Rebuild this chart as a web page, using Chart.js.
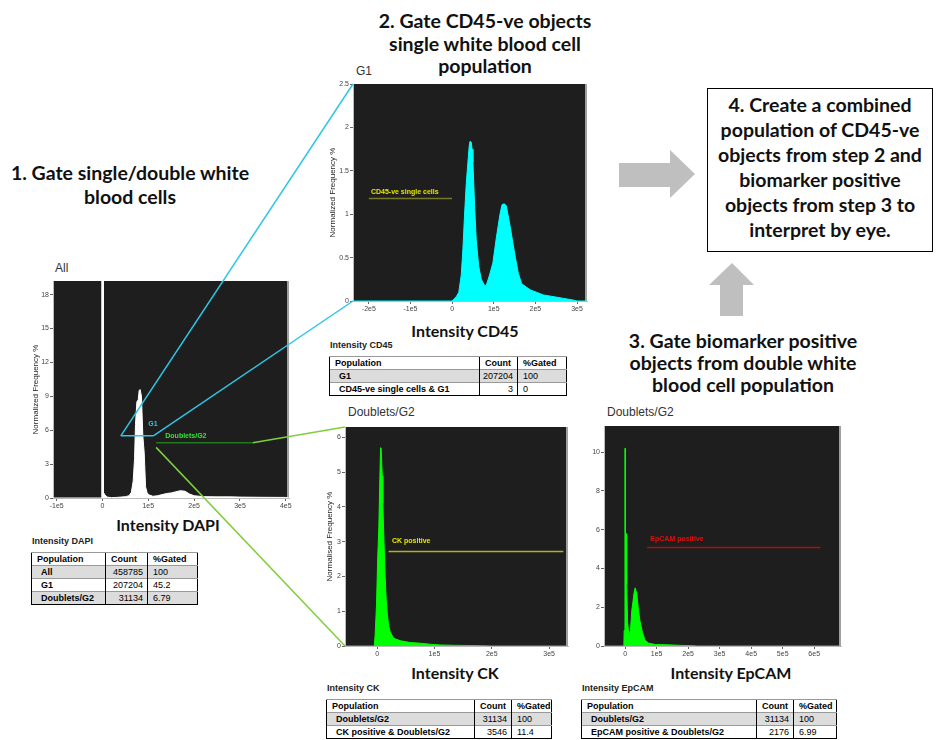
<!DOCTYPE html>
<html>
<head>
<meta charset="utf-8">
<script src="https://cdn.jsdelivr.net/npm/chart.js@4.4.1/dist/chart.umd.min.js"></script>
<style>
  body { margin: 0; width: 936px; height: 740px; position: relative; overflow: hidden; background: #fff; font-family: "Liberation Sans", Arial, sans-serif; }
  .abs { position: absolute; }
  .step { position: absolute; font-family: Lato, "Open Sans", sans-serif; font-weight: 700; font-size: 19.5px; text-align: center; color: #111; }
  .axt { position: absolute; font-family: Lato, "Open Sans", sans-serif; font-weight: 700; font-size: 16px; color: #111; white-space: nowrap; transform: translateX(-50%); }
  .ptitle { position: absolute; font-size: 12px; color: #333; line-height: 14px; }
  .tcap { position: absolute; font-size: 9px; font-weight: bold; color: #222; line-height: 10px; }
  table.pop { position: absolute; border-collapse: collapse; font-size: 9px; border: 1px solid #000; table-layout: fixed; }
  table.pop td { border-left: 1px solid #000; border-top: 1px solid #999; padding: 0 0 0 5px; height: 12px; line-height: 11px; white-space: nowrap; overflow: hidden; }
  table.pop tr.g td { background: #dcdcdc; }
  table.pop td.b { font-weight: bold; }
  table.pop td.r { text-align: right; padding: 0 4px 0 0; }
  #step4 { position: absolute; left: 707px; top: 88px; width: 226px; height: 164px; border: 1.5px solid #000; box-sizing: border-box; }
</style>
</head>
<body>

<div class="step" style="left:-10px; top:161px; width:280px; line-height:23.5px;">1. Gate single/double white<br>blood cells</div>
<div class="step" style="left:360px; top:10px; width:250px; line-height:22.5px;">2. Gate CD45-ve objects<br>single white blood cell<br>population</div>
<div class="step" style="left:602px; top:330px; width:282px; line-height:22px;">3. Gate biomarker positive<br>objects from double white<br>blood cell population</div>
<div id="step4"><div class="step" style="position:static; padding-top:3px; line-height:25px;">4. Create a combined<br>population of CD45-ve<br>objects from step 2 and<br>biomarker positive<br>objects from step 3 to<br>interpret by eye.</div></div>

<div class="ptitle" style="left:55px; top:261px;">All</div>
<div class="ptitle" style="left:356px; top:64px;">G1</div>
<div class="ptitle" style="left:348px; top:405px;">Doublets/G2</div>
<div class="ptitle" style="left:607px; top:405px;">Doublets/G2</div>

<div class="axt" style="left:168px; top:515px;">Intensity DAPI</div>
<div class="axt" style="left:465px; top:321px;">Intensity CD45</div>
<div class="axt" style="left:455px; top:663px;">Intensity CK</div>
<div class="axt" style="left:731px; top:663px;">Intensity EpCAM</div>

<canvas id="overlay" width="936" height="740" style="position:absolute;left:0;top:0;z-index:10;pointer-events:none"></canvas>

<script>
// ---- histogram data (x = intensity, y = normalized frequency %) ----
const dapiX = [-108000, -2000, -1500, 1500, 2000, 5000, 10000, 20000, 30000, 40000, 50000, 58000, 63000, 67000, 70000, 72000, 75000, 78000, 80000, 82000, 85000, 88000, 91000, 94000, 97000, 100000, 110000, 120000, 130000, 140000, 150000, 160000, 170000, 180000, 190000, 200000, 220000, 250000, 280000, 300000, 350000, 400000, 407000];
const dapiY = [0, 0, 19.6, 19.6, 0.5, 0.3, 0.08, 0.03, 0.05, 0.08, 0.12, 0.2, 0.5, 1.5, 3.5, 6.5, 8.5, 8.7, 9.5, 9.6, 9.0, 5.5, 4.0, 1.0, 0.5, 0.3, 0.15, 0.2, 0.3, 0.4, 0.45, 0.55, 0.65, 0.6, 0.35, 0.2, 0.12, 0.1, 0.1, 0.08, 0.06, 0.05, 0];

const cd45X = [-238000, 0, 10000, 16000, 22000, 26000, 30000, 34000, 38000, 41000, 43000, 46000, 48000, 50000, 54000, 58000, 64000, 70000, 78000, 82000, 90000, 98000, 106000, 115000, 120000, 125000, 130000, 139000, 147000, 152000, 159000, 167000, 187000, 219000, 268000, 292000, 300000, 324000];
const cd45Y = [0, 0, 0.05, 0.1, 0.3, 0.6, 1.0, 1.35, 1.6, 1.78, 1.84, 1.83, 1.75, 1.6, 1.1, 0.7, 0.4, 0.25, 0.18, 0.18, 0.3, 0.44, 0.72, 1.0, 1.11, 1.12, 1.1, 0.87, 0.64, 0.5, 0.32, 0.2, 0.13, 0.07, 0.03, 0.01, 0, 0];

const ckX = [-56000, -5000, -3500, -1000, 1000, 3000, 4500, 6000, 7000, 9000, 10000, 12000, 14000, 16000, 18000, 20000, 23000, 29000, 41000, 58000, 76000, 93000, 110000, 134000, 157000, 180000, 200000, 333000];
const ckY = [0, 0, 0.3, 1.2, 2.5, 3.4, 4.6, 5.7, 5.7, 4.9, 4.1, 3.0, 2.0, 1.3, 0.9, 0.6, 0.4, 0.22, 0.15, 0.1, 0.08, 0.05, 0.03, 0.02, 0.015, 0.01, 0, 0];

const epcamX = [-67000, -4000, -3000, -500, -500, 1000, 1000, 3000, 5000, 8000, 12000, 17000, 21000, 25000, 29000, 32000, 37000, 42000, 47000, 55000, 63000, 74000, 95000, 137000, 180000, 210000, 230000, 685000];
const epcamY = [0, 0, 0.8, 0.8, 10.2, 10.2, 5.8, 5.8, 3.2, 1.2, 0.6, 0.8, 1.8, 2.3, 2.8, 3.0, 2.7, 1.9, 1.3, 0.7, 0.3, 0.15, 0.08, 0.06, 0.03, 0.02, 0, 0];

// ---- gates (x from, x to, level) and their labels ----
const g1Gate = { x: [40000, 111000], y: 5.5 };
const dblGate = { x: [117000, 328000], y: 4.88 };
const cd45Gate = { x: [-200000, 0], y: 1.18 };
const ckGate = { x: [20000, 325000], y: 2.72 };
const epcamGate = { x: [70000, 620000], y: 5.08 };

// ---- population tables ----
const dapiPop = ['All', 'G1', 'Doublets/G2'];
const dapiCount = ['458785', '207204', '31134'];
const dapiGated = ['100', '45.2', '6.79'];
const cd45Pop = ['G1', 'CD45-ve single cells & G1'];
const cd45Count = ['207204', '3'];
const cd45Gated = ['100', '0'];
const ckPop = ['Doublets/G2', 'CK positive & Doublets/G2'];
const ckCount = ['31134', '3546'];
const ckGated = ['100', '11.4'];
const epcamPop = ['Doublets/G2', 'EpCAM positive & Doublets/G2'];
const epcamCount = ['31134', '2176'];
const epcamGated = ['100', '6.99'];

// dark plot background + gate labels
const frame = {
  id: 'frame',
  beforeDraw(c) {
    const { ctx, chartArea: a } = c;
    ctx.save();
    ctx.fillStyle = '#1e1e1e';
    ctx.fillRect(a.left, a.top, a.right - a.left, a.bottom - a.top);
    ctx.fillStyle = '#a0a0a0';
    ctx.fillRect(a.right - 2, a.top, 2, a.bottom - a.top);
    ctx.restore();
  },
  afterDatasetsDraw(c, args, opts) {
    const { ctx } = c;
    ctx.save();
    ctx.font = 'bold 7px "Liberation Sans", Arial';
    (opts.labels || []).forEach(l => {
      ctx.fillStyle = l.color;
      ctx.fillText(l.text, c.scales.x.getPixelForValue(l.x), c.scales.y.getPixelForValue(l.y));
    });
    ctx.restore();
  }
};
Chart.register(frame);

function makeHist(box, xs, ys, fill, opts) {
  const div = document.createElement('div');
  div.className = 'abs';
  div.style.left = box.left + 'px';
  div.style.top = box.top + 'px';
  const cv = document.createElement('canvas');
  cv.width = box.w; cv.height = box.h;
  div.appendChild(cv);
  document.body.appendChild(div);

  const datasets = [{
    data: xs.map((x, i) => ({ x: x, y: ys[i] })),
    borderColor: fill, backgroundColor: fill, borderWidth: 1,
    fill: 'origin', pointRadius: 0, tension: 0, order: 2
  }];
  opts.gates.forEach(g => {
    datasets.push({
      data: [{ x: g.x[0], y: g.y }, { x: g.x[1], y: g.y }],
      borderColor: g.color, borderWidth: 1.5, fill: false, pointRadius: 0, order: 1
    });
  });

  const tickFont = { family: '"Liberation Sans", Arial', size: 7 };
  const chart = new Chart(cv, {
    type: 'line',
    data: { datasets: datasets },
    options: {
      responsive: false, animation: false, events: [],
      layout: { padding: { top: 6, right: 8, left: 0, bottom: 0 } },
      plugins: { legend: { display: false }, tooltip: { enabled: false }, frame: { labels: opts.labels } },
      scales: {
        x: {
          type: 'linear', min: opts.xmin, max: opts.xmax,
          afterFit: s => { s.height = 16; },
          // whole multiples of 1e5 only
          afterBuildTicks: s => {
            const t = [];
            for (let v = Math.ceil(s.min / 1e5) * 1e5; v <= s.max; v += 1e5) t.push({ value: v });
            s.ticks = t;
          },
          border: { color: '#bbb' },
          grid: { drawOnChartArea: false, tickLength: 3, color: '#666' },
          ticks: {
            maxRotation: 0, padding: 1, autoSkip: false,
            color: '#444', font: tickFont,
            callback: v => v === 0 ? '0' : Math.round(v / 1e5) + 'e5'
          }
        },
        y: {
          min: 0, max: opts.ymax,
          afterFit: s => { s.width = box.yw; },
          border: { color: '#bbb' },
          grid: { drawOnChartArea: false, tickLength: 3, color: '#666' },
          ticks: {
            stepSize: opts.ystep, includeBounds: false, padding: 1,
            color: '#444', font: tickFont,
            callback: v => String(+v.toFixed(2))
          },
          title: {
            display: !!opts.ytitle, text: opts.ytitle, color: '#222', padding: 0,
            font: { family: '"Liberation Sans", Arial', size: 8 }
          }
        }
      }
    }
  });
  return { chart: chart, left: box.left, top: box.top };
}

const dapi = makeHist({ left: 31, top: 275, w: 266, h: 239, yw: 22 }, dapiX, dapiY, '#ffffff', {
  xmin: -108000, xmax: 407000, ymax: 19.2, ystep: 3, ytitle: 'Normalized Frequency %',
  gates: [
    { x: g1Gate.x, y: g1Gate.y, color: '#2fc6e6' },
    { x: dblGate.x, y: dblGate.y, color: '#1f7a1f' }
  ],
  labels: [
    { text: 'G1', x: 100000, y: 6.4, color: '#2fc6e6' },
    { text: 'Doublets/G2', x: 137000, y: 5.3, color: '#33e633' }
  ]
});

const cd45 = makeHist({ left: 328, top: 78, w: 267, h: 239, yw: 25 }, cd45X, cd45Y, '#00ffff', {
  xmin: -238000, xmax: 324000, ymax: 2.5, ystep: 0.5, ytitle: 'Normalized Frequency %',
  gates: [{ x: cd45Gate.x, y: cd45Gate.y, color: '#77772a' }],
  labels: [{ text: 'CD45-ve single cells', x: -195000, y: 1.23, color: '#e6e600' }]
});

const ck = makeHist({ left: 325, top: 421, w: 251, h: 241, yw: 20 }, ckX, ckY, '#00ff00', {
  xmin: -56000, xmax: 333000, ymax: 6.3, ystep: 1, ytitle: 'Normalised Frequency %',
  gates: [{ x: ckGate.x, y: ckGate.y, color: '#b0b02a' }],
  labels: [{ text: 'CK positive', x: 26000, y: 2.95, color: '#e6e600' }]
});

const epcam = makeHist({ left: 588, top: 420, w: 261, h: 242, yw: 16 }, epcamX, epcamY, '#00ff00', {
  xmin: -67000, xmax: 685000, ymax: 11.35, ystep: 2, ytitle: '',
  gates: [{ x: epcamGate.x, y: epcamGate.y, color: '#a01414' }],
  labels: [{ text: 'EpCAM positive', x: 80000, y: 5.42, color: '#e01010' }]
});

// ---- population tables ----
function makeTable(capText, capPos, pos, cols, pops, counts, gated, grayRows) {
  const cap = document.createElement('div');
  cap.className = 'tcap';
  cap.style.left = capPos[0] + 'px'; cap.style.top = capPos[1] + 'px';
  cap.textContent = capText;
  document.body.appendChild(cap);
  const t = document.createElement('table');
  t.className = 'pop';
  t.style.left = pos[0] + 'px'; t.style.top = pos[1] + 'px';
  let html = '<colgroup>' + cols.map(w => '<col style="width:' + w + 'px">').join('') + '</colgroup>';
  html += '<tr><td class="b">Population</td><td class="b">Count</td><td class="b">%Gated</td></tr>';
  pops.forEach((p, i) => {
    html += '<tr' + (grayRows.includes(i) ? ' class="g"' : '') + '><td class="b" style="padding-left:9px">' + p +
      '</td><td class="r">' + counts[i] + '</td><td>' + gated[i] + '</td></tr>';
  });
  t.innerHTML = html;
  document.body.appendChild(t);
}
makeTable('Intensity DAPI', [32, 536], [31, 552], [74, 42, 50], dapiPop, dapiCount, dapiGated, [0, 2]);
makeTable('Intensity CD45', [330, 340], [329, 356], [150, 38, 49], cd45Pop, cd45Count, cd45Gated, [0]);
makeTable('Intensity CK', [327, 683], [326, 699], [148, 37, 35], ckPop, ckCount, ckGated, [0]);
makeTable('Intensity EpCAM', [582, 683], [581, 699], [175, 37, 43], epcamPop, epcamCount, epcamGated, [0]);

// ---- connectors and arrows ----
const ov = document.getElementById('overlay').getContext('2d');
function px(h, x, y) {
  return [h.left + h.chart.scales.x.getPixelForValue(x), h.top + h.chart.scales.y.getPixelForValue(y)];
}
function corner(h, which) {
  const a = h.chart.chartArea;
  return [h.left + a.left, h.top + (which === 'top' ? a.top : a.bottom)];
}
function seg(p, q, color) {
  ov.strokeStyle = color; ov.lineWidth = 1.5;
  ov.beginPath(); ov.moveTo(p[0], p[1]); ov.lineTo(q[0], q[1]); ov.stroke();
}
const cyan = '#2fc6e6', lime = '#7fcf3c';
seg(px(dapi, g1Gate.x[0], g1Gate.y), corner(cd45, 'top'), cyan);
seg(px(dapi, g1Gate.x[1], g1Gate.y), corner(cd45, 'bottom'), cyan);
seg(px(dapi, dblGate.x[1], dblGate.y), corner(ck, 'top'), lime);
seg(px(dapi, dblGate.x[0], dblGate.y - 0.4), corner(ck, 'bottom'), lime);

function poly(points) {
  ov.fillStyle = '#bfbfbf';
  ov.beginPath();
  points.forEach((p, i) => i ? ov.lineTo(p[0], p[1]) : ov.moveTo(p[0], p[1]));
  ov.closePath(); ov.fill();
}
poly([[619, 163], [670, 163], [670, 150], [695, 174], [670, 198], [670, 187], [619, 187]]);
poly([[732, 263], [754, 285], [743, 285], [743, 316], [720, 316], [720, 285], [709, 285]]);
</script>
</body>
</html>
